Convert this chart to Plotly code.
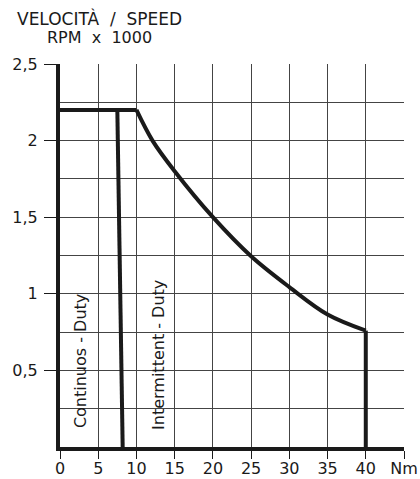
import plotly.graph_objects as go

# torque (Nm) / speed (rpm x 1000) envelope
flat_torque = [0, 10]
flat_speed = [2.2, 2.2]
curve_torque = [10, 12.1, 15, 20, 25, 30, 35, 40]
curve_speed = [2.2, 2.0, 1.8, 1.5, 1.245, 1.044, 0.865, 0.76]
drop_torque = [40, 40]
drop_speed = [0.76, 0]
cont_torque = [7.5, 8.2]
cont_speed = [2.2, 0]

x_ticks = [0, 5, 10, 15, 20, 25, 30, 35, 40, 45]
x_labels = ["0", "5", "10", "15", "20", "25", "30", "35", "40", "Nm"]
y_ticks = [0.5, 1, 1.5, 2, 2.5]
y_labels = ["0,5", "1", "1,5", "2", "2,5"]

FONT = "DejaVu Sans"
INK = "#1a1a1a"
line = dict(color=INK, width=4)

fig = go.Figure()
fig.add_trace(go.Scatter(x=flat_torque, y=flat_speed, mode="lines", line=line))
fig.add_trace(go.Scatter(x=curve_torque, y=curve_speed, mode="lines",
                         line=dict(color=INK, width=4, shape="spline", smoothing=1.0)))
fig.add_trace(go.Scatter(x=drop_torque, y=drop_speed, mode="lines", line=line))
fig.add_trace(go.Scatter(x=cont_torque, y=cont_speed, mode="lines", line=line))

# rotated labels inside the two duty zones
fig.add_annotation(x=2.6, y=0.56, text="Continuos - Duty", textangle=-90,
                   showarrow=False, font=dict(size=16, color=INK, family=FONT))
fig.add_annotation(x=12.8, y=0.60, text="Intermittent - Duty", textangle=-90,
                   showarrow=False, font=dict(size=16, color=INK, family=FONT))

# axis caption top-left
fig.add_annotation(xref="paper", yref="paper", x=0.116, y=1.1175,
                   xanchor="center", yanchor="middle",
                   text="VELOCITÀ\u00a0\u00a0/\u00a0\u00a0SPEED", showarrow=False,
                   font=dict(size=17, color=INK, family=FONT))
fig.add_annotation(xref="paper", yref="paper", x=0.116, y=1.068,
                   xanchor="center", yanchor="middle",
                   text="RPM\u00a0\u00a0x\u00a0\u00a01000", showarrow=False,
                   font=dict(size=16, color=INK, family=FONT))

fig.update_layout(
    width=420, height=479,
    margin=dict(l=60, r=16, t=64, b=32),
    plot_bgcolor="white", paper_bgcolor="white",
    showlegend=False,
    font=dict(family=FONT, size=16, color=INK),
    xaxis=dict(
        range=[0, 45], tickvals=x_ticks, ticktext=x_labels,
        showgrid=True, gridcolor="#444444", gridwidth=1,
        ticks="outside", ticklen=8, tickcolor=INK,
        ticklabelstandoff=-4,
        showline=True, linecolor=INK, linewidth=4,
        zeroline=False, fixedrange=True, automargin=False,
    ),
    yaxis=dict(
        range=[0, 2.5], tickvals=y_ticks, ticktext=y_labels,
        showgrid=True, gridcolor="#444444", gridwidth=1,
        minor=dict(dtick=0.25, tick0=0, showgrid=True, gridcolor="#444444", gridwidth=1),
        ticks="outside", ticklen=12, tickcolor=INK,
        ticklabelstandoff=3,
        showline=True, linecolor=INK, linewidth=4,
        zeroline=False, fixedrange=True, automargin=False,
    ),
)

fig.write_html("out.html", config=dict(displayModeBar=False),
               post_script="document.body.style.margin='0';")
